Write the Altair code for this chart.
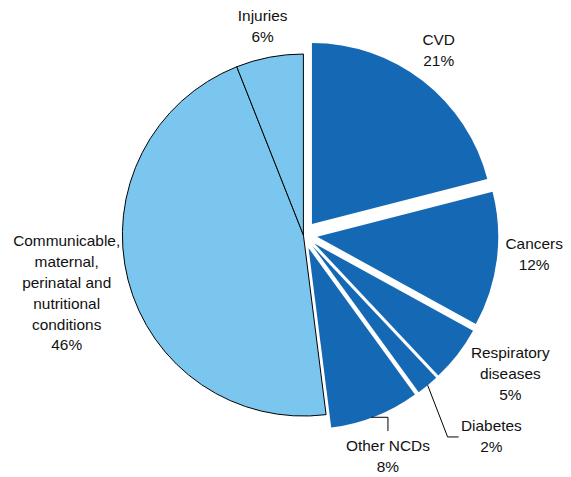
import altair as alt
import pandas as pd
import numpy as np

# ---- data ----
categories = ["CVD", "Cancers", "Respiratory diseases", "Diabetes", "Other NCDs",
              "Communicable, maternal, perinatal and nutritional conditions", "Injuries"]
values = [21, 12, 5, 2, 8, 46, 6]
groups = ["NCD", "NCD", "NCD", "NCD", "NCD", "Other", "Other"]
label_texts = ["CVD\n21%", "Cancers\n12%", "Respiratory\ndiseases\n5%", "Diabetes\n2%",
               "Other NCDs\n8%",
               "Communicable,\nmaternal,\nperinatal and\nnutritional\nconditions\n46%",
               "Injuries\n6%"]

# ---- layout (chart pixel coordinates) ----
W, H = 555, 461
CX, CY, R = 297, 226, 182
EXPLODE = 14
label_x = [433, 529, 505, 486, 382, 59, 256]
label_y = [30, 235, 345, 418, 438, 232, 6]
DARK, LIGHT = "#1569b4", "#7ac6ee"

vals = np.array(values, dtype=float)
end = np.cumsum(vals)
start = end - vals
total = vals.sum()
mid = (start + end) / 2 / total * 2 * np.pi
explode = np.array([EXPLODE if g == "NCD" else 0 for g in groups])

df = pd.DataFrame({
    "category": categories, "value": values, "group": groups,
    "start": start, "end": end,
    "px": CX + explode * np.sin(mid), "py": CY - explode * np.cos(mid),
})

theta_scale = alt.Scale(domain=[0, total], range=[0, 2 * np.pi])

base = alt.Chart(df)
dark = base.transform_filter(alt.datum.group == "NCD").mark_arc(
    radius=R, color=DARK, stroke=None
).encode(
    theta=alt.Theta("start:Q", scale=theta_scale),
    theta2="end:Q",
    x=alt.X("px:Q", scale=None),
    y=alt.Y("py:Q", scale=None),
)
light = base.transform_filter(alt.datum.group == "Other").mark_arc(
    radius=R, color=LIGHT, stroke="black", strokeWidth=1
).encode(
    theta=alt.Theta("start:Q", scale=theta_scale),
    theta2="end:Q",
    x=alt.X("px:Q", scale=None),
    y=alt.Y("py:Q", scale=None),
)

labels_df = pd.DataFrame({"text": label_texts, "lx": label_x, "ly": label_y})
labels = alt.Chart(labels_df).mark_text(
    font="Liberation Sans", fontSize=15.5, lineBreak="\n", lineHeight=21,
    align="center", baseline="middle", color="#111111"
).encode(
    x=alt.X("lx:Q", scale=None), y=alt.Y("ly:Q", scale=None), text="text:N"
)

# leader lines for Diabetes and Other NCDs, starting at slice outer midpoints
rows = []
def outer_mid(i):
    rr = R + explode[i]
    return CX + rr * np.sin(mid[i]), CY - rr * np.cos(mid[i])

i_d = categories.index("Diabetes")
sx, sy = outer_mid(i_d)
for k, (x, y) in enumerate([(sx, sy), (442, 429), (453, 429)]):
    rows.append({"line": "d", "o": k, "x": x, "y": y})
i_o = categories.index("Other NCDs")
sx, sy = outer_mid(i_o)
for k, (x, y) in enumerate([(sx - 4, sy + 1), (382, sy + 1), (382, 423)]):
    rows.append({"line": "o", "o": k, "x": x, "y": y})
leaders = alt.Chart(pd.DataFrame(rows)).mark_line(color="black", strokeWidth=1).encode(
    x=alt.X("x:Q", scale=None), y=alt.Y("y:Q", scale=None),
    detail="line:N", order="o:Q"
)

chart = alt.layer(light, dark, leaders, labels).properties(
    width=W, height=H, padding=0
).configure_view(stroke=None)

chart.save("out.html", embed_options={"renderer": "svg", "actions": False})
